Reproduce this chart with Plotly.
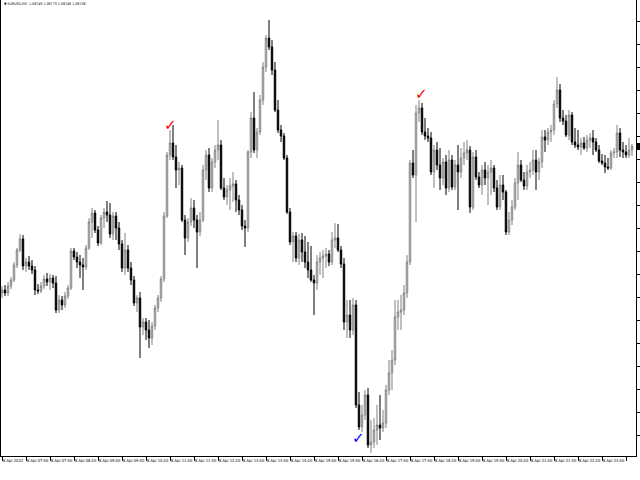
import plotly.graph_objects as go

# EURUSD M5, 8 Apr 2022 (bars 06:20 .. 23:50)
OPEN = [
1.08607,1.08610,1.08607,1.08614,1.08620,1.08635,1.08650,1.08661,1.08634,1.08638,
1.08634,1.08630,1.08610,1.08609,1.08614,1.08621,1.08618,1.08622,1.08617,1.08590,
1.08600,1.08595,1.08604,1.08612,1.08649,1.08643,1.08638,1.08635,1.08633,1.08652,
1.08678,1.08687,1.08670,1.08657,1.08682,1.08688,1.08685,1.08666,1.08684,1.08672,
1.08656,1.08632,1.08650,1.08632,1.08620,1.08597,1.08602,1.08573,1.08578,1.08570,
1.08562,1.08574,1.08592,1.08602,1.08621,1.08684,1.08745,1.08757,1.08743,1.08730,
1.08732,1.08680,1.08662,1.08678,1.08692,1.08680,1.08668,1.08680,1.08730,1.08745,
1.08712,1.08738,1.08750,1.08755,1.08712,1.08703,1.08710,1.08714,1.08716,1.08700,
1.08690,1.08674,1.08672,1.08748,1.08782,1.08750,1.08768,1.08800,1.08833,1.08862,
1.08853,1.08830,1.08790,1.08770,1.08764,1.08742,1.08688,1.08658,1.08664,1.08642,
1.08660,1.08648,1.08638,1.08630,1.08620,1.08617,1.08638,1.08642,1.08644,1.08646,
1.08638,1.08660,1.08662,1.08650,1.08636,1.08578,1.08585,1.08570,1.08595,1.08495,
1.08473,1.08485,1.08505,1.08455,1.08458,1.08470,1.08475,1.08472,1.08477,1.08510,
1.08527,1.08540,1.08583,1.08588,1.08590,1.08607,1.08638,1.08737,1.08725,1.08787,
1.08792,1.08768,1.08764,1.08762,1.08728,1.08750,1.08735,1.08722,1.08738,1.08712,
1.08740,1.08713,1.08735,1.08728,1.08742,1.08747,1.08750,1.08693,1.08743,1.08723,
1.08715,1.08730,1.08722,1.08728,1.08732,1.08712,1.08693,1.08715,1.08708,1.08668,
1.08680,1.08693,1.08717,1.08735,1.08720,1.08714,1.08728,1.08730,1.08740,1.08728,
1.08738,1.08763,1.08760,1.08768,1.08770,1.08796,1.08810,1.08782,1.08779,1.08765,
1.08785,1.08758,1.08755,1.08753,1.08757,1.08752,1.08760,1.08762,1.08758,1.08750,
1.08739,1.08737,1.08733,1.08732,1.08747,1.08748,1.08767,1.08750,1.08748,1.08745,
1.08750]

HIGH = [
1.08614,1.08615,1.08618,1.08623,1.08638,1.08652,1.08666,1.08665,1.08642,1.08644,
1.08640,1.08634,1.08616,1.08618,1.08625,1.08627,1.08626,1.08625,1.08624,1.08605,
1.08604,1.08608,1.08615,1.08652,1.08652,1.08648,1.08645,1.08642,1.08655,1.08682,
1.08692,1.08690,1.08674,1.08685,1.08692,1.08699,1.08697,1.08688,1.08688,1.08678,
1.08660,1.08667,1.08655,1.08638,1.08624,1.08605,1.08608,1.08582,1.08582,1.08580,
1.08578,1.08595,1.08605,1.08624,1.08688,1.08748,1.08770,1.08775,1.08755,1.08738,
1.08735,1.08685,1.08682,1.08702,1.08700,1.08685,1.08688,1.08735,1.08750,1.08752,
1.08742,1.08755,1.08780,1.08760,1.08722,1.08715,1.08722,1.08728,1.08720,1.08705,
1.08695,1.08680,1.08750,1.08788,1.08808,1.08772,1.08805,1.08838,1.08865,1.08880,
1.08860,1.08838,1.08800,1.08775,1.08767,1.08745,1.08692,1.08668,1.08668,1.08666,
1.08667,1.08664,1.08658,1.08654,1.08625,1.08645,1.08648,1.08650,1.08652,1.08650,
1.08668,1.08677,1.08676,1.08654,1.08642,1.08600,1.08600,1.08602,1.08600,1.08508,
1.08495,1.08510,1.08512,1.08480,1.08482,1.08495,1.08505,1.08490,1.08515,1.08540,
1.08550,1.08600,1.08600,1.08605,1.08615,1.08645,1.08740,1.08750,1.08795,1.08800,
1.08797,1.08782,1.08772,1.08768,1.08755,1.08758,1.08752,1.08742,1.08745,1.08750,
1.08745,1.08740,1.08755,1.08752,1.08758,1.08760,1.08754,1.08748,1.08750,1.08728,
1.08735,1.08738,1.08735,1.08740,1.08735,1.08720,1.08725,1.08725,1.08710,1.08688,
1.08700,1.08722,1.08748,1.08740,1.08728,1.08735,1.08738,1.08750,1.08750,1.08742,
1.08770,1.08770,1.08772,1.08775,1.08800,1.08823,1.08816,1.08790,1.08785,1.08790,
1.08788,1.08772,1.08770,1.08762,1.08763,1.08765,1.08767,1.08770,1.08762,1.08755,
1.08746,1.08745,1.08742,1.08750,1.08752,1.08775,1.08772,1.08758,1.08755,1.08762,
1.08756]

LOW = [
1.08602,1.08604,1.08604,1.08611,1.08618,1.08632,1.08648,1.08630,1.08628,1.08630,
1.08626,1.08605,1.08606,1.08607,1.08611,1.08614,1.08610,1.08612,1.08587,1.08587,
1.08590,1.08592,1.08601,1.08610,1.08640,1.08632,1.08622,1.08610,1.08630,1.08650,
1.08662,1.08667,1.08654,1.08655,1.08672,1.08678,1.08662,1.08660,1.08660,1.08650,
1.08628,1.08625,1.08628,1.08615,1.08594,1.08588,1.08542,1.08565,1.08560,1.08552,
1.08555,1.08570,1.08588,1.08598,1.08618,1.08682,1.08740,1.08740,1.08712,1.08715,
1.08678,1.08645,1.08658,1.08674,1.08672,1.08632,1.08664,1.08678,1.08720,1.08708,
1.08708,1.08732,1.08740,1.08710,1.08700,1.08695,1.08690,1.08698,1.08688,1.08685,
1.08670,1.08653,1.08668,1.08742,1.08747,1.08742,1.08765,1.08795,1.08828,1.08850,
1.08825,1.08788,1.08767,1.08758,1.08740,1.08686,1.08655,1.08638,1.08638,1.08635,
1.08638,1.08632,1.08622,1.08618,1.08585,1.08610,1.08625,1.08622,1.08632,1.08634,
1.08635,1.08652,1.08648,1.08632,1.08570,1.08562,1.08562,1.08565,1.08492,1.08470,
1.08468,1.08480,1.08452,1.08447,1.08452,1.08455,1.08460,1.08468,1.08472,1.08505,
1.08510,1.08535,1.08570,1.08570,1.08585,1.08602,1.08635,1.08722,1.08678,1.08778,
1.08765,1.08760,1.08758,1.08725,1.08712,1.08730,1.08710,1.08715,1.08705,1.08708,
1.08710,1.08710,1.08690,1.08722,1.08735,1.08740,1.08687,1.08690,1.08720,1.08712,
1.08705,1.08715,1.08695,1.08705,1.08708,1.08690,1.08690,1.08700,1.08665,1.08665,
1.08675,1.08690,1.08700,1.08718,1.08710,1.08710,1.08722,1.08725,1.08710,1.08720,
1.08732,1.08748,1.08755,1.08758,1.08765,1.08792,1.08778,1.08775,1.08763,1.08760,
1.08755,1.08752,1.08750,1.08745,1.08750,1.08748,1.08752,1.08745,1.08748,1.08737,
1.08735,1.08727,1.08730,1.08730,1.08742,1.08742,1.08743,1.08742,1.08742,1.08742,
1.08744]

CLOSE = [
1.08610,1.08607,1.08614,1.08620,1.08635,1.08650,1.08661,1.08634,1.08638,1.08634,
1.08630,1.08610,1.08609,1.08614,1.08621,1.08618,1.08622,1.08617,1.08590,1.08600,
1.08595,1.08604,1.08612,1.08649,1.08643,1.08638,1.08635,1.08633,1.08652,1.08678,
1.08687,1.08670,1.08657,1.08682,1.08688,1.08685,1.08666,1.08684,1.08672,1.08656,
1.08632,1.08650,1.08632,1.08620,1.08597,1.08602,1.08573,1.08578,1.08570,1.08562,
1.08574,1.08592,1.08602,1.08621,1.08684,1.08745,1.08757,1.08743,1.08730,1.08732,
1.08680,1.08662,1.08678,1.08692,1.08680,1.08668,1.08680,1.08730,1.08745,1.08712,
1.08738,1.08750,1.08755,1.08712,1.08703,1.08710,1.08714,1.08716,1.08700,1.08690,
1.08674,1.08672,1.08748,1.08782,1.08750,1.08768,1.08800,1.08833,1.08862,1.08853,
1.08830,1.08790,1.08770,1.08764,1.08742,1.08688,1.08658,1.08664,1.08642,1.08660,
1.08648,1.08638,1.08630,1.08620,1.08617,1.08638,1.08642,1.08644,1.08646,1.08638,
1.08660,1.08662,1.08650,1.08636,1.08578,1.08585,1.08570,1.08595,1.08495,1.08473,
1.08485,1.08505,1.08455,1.08458,1.08470,1.08475,1.08472,1.08477,1.08510,1.08527,
1.08540,1.08583,1.08588,1.08590,1.08607,1.08638,1.08737,1.08725,1.08787,1.08792,
1.08768,1.08764,1.08762,1.08728,1.08750,1.08735,1.08722,1.08738,1.08712,1.08740,
1.08713,1.08735,1.08728,1.08742,1.08747,1.08750,1.08693,1.08743,1.08723,1.08715,
1.08730,1.08722,1.08728,1.08732,1.08712,1.08693,1.08715,1.08708,1.08668,1.08680,
1.08693,1.08717,1.08735,1.08720,1.08714,1.08728,1.08730,1.08740,1.08728,1.08738,
1.08763,1.08760,1.08768,1.08770,1.08796,1.08810,1.08782,1.08779,1.08765,1.08785,
1.08758,1.08755,1.08753,1.08757,1.08752,1.08760,1.08762,1.08758,1.08750,1.08739,
1.08737,1.08733,1.08732,1.08747,1.08748,1.08767,1.08750,1.08748,1.08745,1.08750,
1.08754]

TICK_LABELS = [
"8 Apr 2022", "8 Apr 07:00", "8 Apr 07:40", "8 Apr 08:20", "8 Apr 09:00",
"8 Apr 09:40", "8 Apr 10:20", "8 Apr 11:00", "8 Apr 11:40", "8 Apr 12:20",
"8 Apr 13:00", "8 Apr 13:40", "8 Apr 14:20", "8 Apr 15:00", "8 Apr 15:40",
"8 Apr 16:20", "8 Apr 17:00", "8 Apr 17:40", "8 Apr 18:20", "8 Apr 19:00",
"8 Apr 19:40", "8 Apr 20:20", "8 Apr 21:00", "8 Apr 21:40", "8 Apr 22:20",
"8 Apr 23:00", "8 Apr 23:40"]
BARS_PER_TICK = 8

# check-mark signals: bar position, price, colour
SIGNAL_BARS = [56, 139.7, 118.7]
SIGNAL_PRICES = [1.08775, 1.08806, 1.08462]
SIGNAL_COLORS = ["#ff0000", "#ff0000", "#0000ff"]

TITLE = "\u25bc EURUSD,M5  1.08749 1.08773 1.08749 1.08758"

x = list(range(len(OPEN)))
tickvals = [i * BARS_PER_TICK for i in range(len(TICK_LABELS))]

fig = go.Figure()
fig.add_trace(go.Candlestick(
    x=x, open=OPEN, high=HIGH, low=LOW, close=CLOSE,
    increasing=dict(line=dict(color="#808080", width=1), fillcolor="#ffffff"),
    decreasing=dict(line=dict(color="#000000", width=1), fillcolor="#000000"),
    whiskerwidth=0, showlegend=False, hoverinfo="skip",
))

tiny = dict(family="Liberation Sans Narrow, DejaVu Sans Condensed, Arial Narrow, sans-serif",
            size=4, color="#000000")

for xb, yp, col in zip(SIGNAL_BARS, SIGNAL_PRICES, SIGNAL_COLORS):
    fig.add_annotation(x=xb, y=yp, text="\u2713", showarrow=False,
                       font=dict(family="DejaVu Sans", size=15, color=col),
                       xanchor="center", yanchor="middle")

fig.add_annotation(xref="paper", yref="paper", x=0.002, y=0.999, text=TITLE,
                   showarrow=False, xanchor="left", yanchor="top",
                   font=dict(tiny, size=3.6))

# current price marker on the right scale
fig.add_shape(type="rect", xref="paper", yref="y", x0=1.0015, x1=1.0065,
              y0=CLOSE[-1] - 0.00004, y1=CLOSE[-1] + 0.00003,
              fillcolor="#000000", line=dict(width=0))

fig.update_layout(
    width=640, height=480,
    margin=dict(l=1, r=4, t=0, b=24, autoexpand=False),
    paper_bgcolor="#ffffff", plot_bgcolor="#ffffff",
    xaxis=dict(
        range=[-1 / 3, len(OPEN) + 1 / 3],
        rangeslider=dict(visible=False),
        tickmode="array", tickvals=tickvals, ticktext=TICK_LABELS,
        ticks="outside", ticklen=4, tickcolor="#000000", tickwidth=1,
        ticklabelposition="outside right", tickangle=0,
        tickfont=tiny, automargin=False,
        showgrid=False, zeroline=False,
        showline=True, linecolor="#000000", linewidth=1, mirror=False,
    ),
    yaxis=dict(
        range=[1.08444, 1.08900],
        side="right", automargin=False,
        tick0=1.08810, dtick=0.00023,
        ticks="outside", ticklen=3, tickcolor="#000000",
        showticklabels=False,
        showgrid=False, zeroline=False,
        showline=True, linecolor="#000000", linewidth=1, mirror=True,
    ),
)

fig.write_html(
    "out.html",
    config={"displayModeBar": False, "staticPlot": True},
    post_script="document.body.style.margin='0';document.body.style.padding='0';",
)
